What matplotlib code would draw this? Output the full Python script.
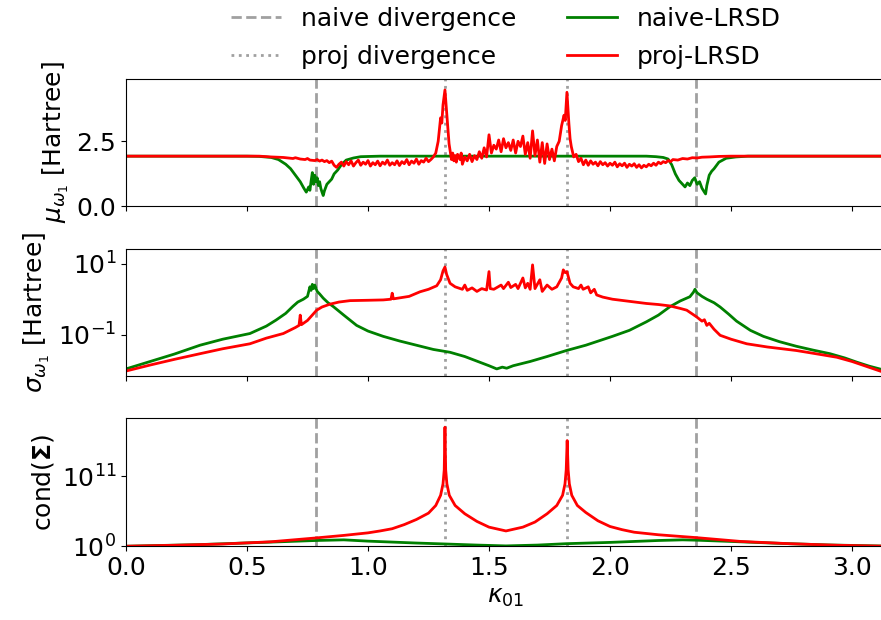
import numpy as np
import matplotlib
matplotlib.use('Agg')
import matplotlib.pyplot as plt
from matplotlib.ticker import NullLocator

plt.rcParams['font.size'] = 18

# divergence positions
naive_div = [np.pi / 4, 3 * np.pi / 4]
proj_div = [1.318, 1.823]

# mean mu_w1 [Hartree], naive-LRSD
mu_naive_x = [0.0, 0.3, 0.5, 0.55, 0.6, 0.63, 0.66, 0.68, 0.70, 0.72, 0.735, 0.745, 0.755, 0.76,
              0.765, 0.77, 0.775, 0.78, 0.785, 0.79, 0.795, 0.80, 0.805, 0.81, 0.815, 0.82, 0.83,
              0.84, 0.85, 0.86, 0.875, 0.89, 0.91, 0.94, 0.97, 1.05, 1.6, 2.15, 2.19, 2.22, 2.24,
              2.255, 2.27, 2.285, 2.30, 2.31, 2.32, 2.33, 2.34, 2.35, 2.36, 2.37, 2.38, 2.39, 2.395,
              2.40, 2.41, 2.42, 2.43, 2.45, 2.48, 2.52, 2.57, 2.9, 3.1416]
mu_naive = [1.93, 1.93, 1.93, 1.92, 1.88, 1.80, 1.62, 1.45, 1.20, 0.95, 0.70, 0.55, 0.75, 0.62,
            0.98, 1.30, 0.85, 1.20, 0.95, 1.10, 0.80, 0.95, 0.70, 0.55, 0.42, 0.60, 0.85,
            0.95, 1.05, 1.25, 1.40, 1.60, 1.78, 1.86, 1.91, 1.93, 1.93, 1.93, 1.91, 1.88, 1.82,
            1.60, 1.25, 1.00, 0.85, 0.75, 0.90, 0.80, 1.00, 1.10, 0.85, 0.95, 0.70, 0.55, 0.48,
            0.80, 1.20, 1.35, 1.45, 1.70, 1.85, 1.90, 1.93, 1.93, 1.93]

# mean mu_w1 [Hartree], proj-LRSD
mu_proj_x = [0.0, 0.3, 0.55, 0.60, 0.65, 0.67, 0.69, 0.70, 0.72, 0.74, 0.75, 0.76, 0.78, 0.79,
             0.80, 0.81, 0.82, 0.83, 0.84, 0.85, 0.86, 0.87, 0.88, 0.89, 0.90, 0.91, 0.92, 0.93,
             0.94, 0.95, 0.96, 0.97, 0.98, 0.99, 1.00, 1.01, 1.02, 1.03, 1.04, 1.05, 1.06, 1.07,
             1.08, 1.09, 1.10, 1.11, 1.12, 1.13, 1.14, 1.15, 1.16, 1.17, 1.18, 1.19, 1.20, 1.21,
             1.22, 1.23, 1.24, 1.25, 1.26, 1.27, 1.28, 1.29, 1.30, 1.305, 1.31, 1.318, 1.325,
             1.33, 1.335, 1.34, 1.345, 1.35, 1.355, 1.36, 1.365, 1.37, 1.38, 1.385, 1.39, 1.40,
             1.41, 1.42, 1.43, 1.44, 1.45, 1.46, 1.47, 1.48, 1.49, 1.50, 1.51, 1.52, 1.53, 1.54,
             1.55, 1.56, 1.57, 1.58, 1.59, 1.60, 1.61, 1.62, 1.63, 1.64, 1.65, 1.66, 1.67, 1.68,
             1.69, 1.70, 1.71, 1.72, 1.73, 1.74, 1.75, 1.76, 1.77, 1.78, 1.79, 1.80, 1.81, 1.815,
             1.822, 1.83, 1.835, 1.84, 1.85, 1.86, 1.87, 1.88, 1.89, 1.90, 1.91, 1.92, 1.93,
             1.94, 1.95, 1.96, 1.97, 1.98, 1.99, 2.00, 2.01, 2.02, 2.03, 2.04, 2.05, 2.06, 2.07,
             2.08, 2.09, 2.10, 2.11, 2.12, 2.13, 2.14, 2.15, 2.16, 2.17, 2.18, 2.19, 2.20, 2.21,
             2.22, 2.23, 2.24, 2.25, 2.26, 2.28, 2.30, 2.32, 2.34, 2.36, 2.38, 2.41, 2.45, 2.50,
             2.9, 3.1416]
mu_proj = [1.93, 1.93, 1.93, 1.90, 1.88, 1.86, 1.84, 1.87, 1.82, 1.80, 1.84, 1.78, 1.76, 1.80,
           1.74, 1.78, 1.72, 1.76, 1.68, 1.74, 1.58, 1.50, 1.62, 1.70, 1.55, 1.72, 1.60, 1.75,
           1.55, 1.68, 1.78, 1.58, 1.70, 1.62, 1.76, 1.55, 1.68, 1.60, 1.74, 1.56, 1.70, 1.62,
           1.78, 1.58, 1.68, 1.60, 1.75, 1.57, 1.72, 1.64, 1.80, 1.60, 1.74, 1.66, 1.82, 1.62,
           1.76, 1.70, 1.85, 1.72, 1.80, 1.90, 2.05, 2.50, 3.40, 3.20, 3.90, 4.47, 3.60,
           3.00, 2.40, 2.10, 1.80, 2.05, 1.75, 1.95, 1.70, 2.00, 1.80, 2.05, 1.62, 1.90,
           1.75, 2.00, 1.72, 1.95, 1.80, 2.10, 1.85, 2.25, 1.90, 2.75, 2.05, 2.35, 2.20, 2.55,
           2.10, 2.60, 2.25, 2.45, 2.15, 2.55, 2.05, 2.50, 2.30, 2.70, 2.00, 2.45, 1.85, 2.90,
           1.95, 2.55, 1.70, 2.45, 1.65, 2.40, 1.80, 2.20, 1.75, 2.30, 2.50, 3.10, 3.50, 3.30,
           4.38, 3.20, 2.60, 2.30, 1.90, 2.00, 1.72, 1.85, 1.60, 1.78, 1.58, 1.75, 1.62,
           1.70, 1.56, 1.72, 1.60, 1.68, 1.55, 1.66, 1.58, 1.70, 1.52, 1.64, 1.56, 1.66, 1.50,
           1.62, 1.55, 1.64, 1.50, 1.60, 1.48, 1.58, 1.52, 1.62, 1.56, 1.66, 1.58, 1.70, 1.64,
           1.72, 1.68, 1.76, 1.72, 1.80, 1.78, 1.84, 1.82, 1.87, 1.86, 1.89, 1.90, 1.92, 1.93,
           1.93, 1.93]

# std sigma_w1 [Hartree], log10 values
sig_naive_x = [0.0, 0.1, 0.2, 0.306, 0.4, 0.512, 0.58, 0.62, 0.66, 0.69, 0.71, 0.733, 0.75, 0.76,
               0.765, 0.77, 0.775, 0.78, 0.79, 0.80, 0.815, 0.835, 0.857, 0.90, 0.953, 1.00, 1.063,
               1.13, 1.20, 1.27, 1.339, 1.40, 1.45, 1.50, 1.532, 1.555, 1.573, 1.60, 1.67, 1.74,
               1.82, 1.90, 2.01, 2.08, 2.15, 2.20, 2.248, 2.29, 2.33, 2.345, 2.351, 2.36, 2.38,
               2.40, 2.43, 2.455, 2.49, 2.523, 2.58, 2.634, 2.70, 2.77, 2.84, 2.909, 2.97, 3.02,
               3.07, 3.1416]
sig_naive_log = [-1.97, -1.76, -1.55, -1.30, -1.13, -0.97, -0.76, -0.59, -0.40, -0.20, -0.08, 0.0,
                 0.08, 0.35, 0.25, 0.42, 0.30, 0.40, 0.22, 0.15, 0.03, -0.10, -0.21, -0.45, -0.74,
                 -0.90, -1.05, -1.18, -1.30, -1.42, -1.50, -1.62, -1.75, -1.88, -1.97, -1.92,
                 -1.95, -1.88, -1.76, -1.62, -1.45, -1.30, -1.05, -0.88, -0.64, -0.45, -0.21,
                 -0.05, 0.07, 0.20, 0.28, 0.18, 0.08, 0.0, -0.10, -0.22, -0.42, -0.62, -0.88,
                 -1.05, -1.20, -1.33, -1.44, -1.54, -1.66, -1.78, -1.89, -2.02]

sig_proj_x = [0.0, 0.1, 0.2, 0.306, 0.4, 0.512, 0.58, 0.65, 0.70, 0.715, 0.72, 0.725, 0.75, 0.788,
              0.81, 0.843, 0.88, 0.926, 1.00, 1.063, 1.095, 1.10, 1.105, 1.17, 1.215, 1.25, 1.284,
              1.30, 1.31, 1.318, 1.325, 1.339, 1.36, 1.39, 1.40, 1.41, 1.43, 1.45, 1.47, 1.49,
              1.50, 1.505, 1.52, 1.55, 1.56, 1.58, 1.59, 1.61, 1.62, 1.64, 1.65, 1.66, 1.67,
              1.68, 1.69, 1.71, 1.72, 1.74, 1.76, 1.78, 1.80, 1.807, 1.815, 1.822, 1.835, 1.848,
              1.87, 1.88, 1.889, 1.91, 1.92, 1.935, 1.945, 1.97, 2.01, 2.08, 2.15, 2.20, 2.248,
              2.29, 2.317, 2.358, 2.38, 2.39, 2.40, 2.41, 2.43, 2.455, 2.50, 2.565, 2.65, 2.77,
              2.85, 2.937, 3.00, 3.06, 3.1416]
sig_proj_log = [-2.03, -1.86, -1.70, -1.54, -1.40, -1.26, -1.10, -0.97, -0.80, -0.74, -0.45, -0.72,
                -0.60, -0.31, -0.22, -0.14, -0.08, -0.04, -0.03, -0.02, 0.0, 0.17, 0.01, 0.08,
                0.21, 0.28, 0.38, 0.55, 0.80, 0.91, 0.70, 0.45, 0.35, 0.28, 0.40, 0.25, 0.32,
                0.22, 0.30, 0.26, 0.78, 0.30, 0.28, 0.40, 0.30, 0.48, 0.33, 0.42, 0.30, 0.60,
                0.32, 0.45, 0.28, 0.97, 0.30, 0.55, 0.22, 0.40, 0.28, 0.35, 0.60, 0.83, 0.75,
                0.78, 0.45, 0.35, 0.30, 0.40, 0.28, 0.35, 0.18, 0.28, 0.12, 0.06, 0.0, -0.06,
                -0.12, -0.15, -0.19, -0.26, -0.31, -0.50, -0.62, -0.58, -0.74, -0.68, -0.85,
                -1.02, -1.13, -1.26, -1.35, -1.45, -1.54, -1.64, -1.76, -1.90, -2.09]

# condition number of Sigma, log10 values
cond_naive_x = [0.0, 0.3, 0.6, 0.785, 0.9, 1.0, 1.2, 1.32, 1.45, 1.57, 1.7, 1.82, 2.0, 2.2, 2.3,
                2.356, 2.5, 2.7, 2.9, 3.1416]
cond_naive_log = [0.0, 0.25, 0.65, 0.9, 1.0, 0.8, 0.5, 0.35, 0.18, 0.05, 0.18, 0.4, 0.6, 0.9,
                  1.0, 0.95, 0.75, 0.45, 0.2, 0.02]

cond_proj_x = [0.0, 0.2, 0.4, 0.6, 0.785, 0.9, 1.0, 1.05, 1.1, 1.15, 1.2, 1.25, 1.28, 1.30,
               1.31, 1.315, 1.318, 1.321, 1.326, 1.336, 1.36, 1.40, 1.45, 1.50, 1.57, 1.64,
               1.69, 1.74, 1.78, 1.804, 1.814, 1.819, 1.823, 1.827, 1.832, 1.842, 1.865, 1.90,
               1.95, 2.0, 2.05, 2.1, 2.2, 2.356, 2.54, 2.74, 2.94, 3.1416]
cond_proj_log = [0.0, 0.15, 0.35, 0.7, 1.3, 1.7, 2.1, 2.4, 2.75, 3.4, 4.2, 5.2, 6.4, 8.0,
                 9.8, 12.0, 18.7, 12.0, 9.8, 8.0, 6.4, 5.1, 3.9, 3.0, 2.4, 3.0,
                 3.8, 5.1, 6.4, 8.0, 9.8, 12.0, 16.6, 12.0, 9.8, 8.0, 6.4, 5.3,
                 4.0, 3.1, 2.6, 2.2, 1.8, 1.35, 0.75, 0.4, 0.15, 0.0]

fig, axs = plt.subplots(3, 1, figsize=(8.81, 6.20), dpi=100, sharex=True)
fig.subplots_adjust(left=0.143, right=1.006, top=0.873, bottom=0.119, hspace=0.33)

for ax in axs:
    for i, xv in enumerate(naive_div):
        ax.axvline(xv, color='gray', ls='--', lw=2, alpha=0.75,
                   label='naive divergence' if i == 0 else None)
    for i, xv in enumerate(proj_div):
        ax.axvline(xv, color='gray', ls=':', lw=2, alpha=0.75,
                   label='proj divergence' if i == 0 else None)

axs[0].plot(mu_naive_x, mu_naive, color='green', lw=2, label='naive-LRSD')
axs[0].plot(mu_proj_x, mu_proj, color='red', lw=2, label='proj-LRSD')
axs[0].set_ylim(0, 4.9)
axs[0].set_yticks([0.0, 2.5])
axs[0].set_ylabel(r'$\mu_{\omega_1}$ [Hartree]')

axs[1].plot(sig_naive_x, np.power(10.0, sig_naive_log), color='green', lw=2)
axs[1].plot(sig_proj_x, np.power(10.0, sig_proj_log), color='red', lw=2)
axs[1].set_yscale('log')
axs[1].set_ylim(10 ** -2.18, 10 ** 1.43)
axs[1].set_yticks([0.1, 10])
axs[1].yaxis.set_minor_locator(NullLocator())
axs[1].set_ylabel(r'$\sigma_{\omega_1}$ [Hartree]')

axs[2].plot(cond_naive_x, np.power(10.0, cond_naive_log), color='green', lw=2)
axs[2].plot(cond_proj_x, np.power(10.0, cond_proj_log), color='red', lw=2)
axs[2].set_yscale('log')
axs[2].set_ylim(1, 10 ** 20.07)
axs[2].set_yticks([1, 1e11])
axs[2].yaxis.set_minor_locator(NullLocator())
axs[2].set_ylabel(r'cond($\mathbf{\Sigma}$)')

axs[2].set_xlim(0, np.pi)
axs[2].set_xticks([0.0, 0.5, 1.0, 1.5, 2.0, 2.5, 3.0])
axs[2].set_xlabel(r'$\kappa_{01}$')

axs[0].legend(loc='lower center', bbox_to_anchor=(0.5, 1.0), ncol=2, frameon=False,
              borderaxespad=0.0, labelspacing=0.55)

plt.savefig('out.png')
